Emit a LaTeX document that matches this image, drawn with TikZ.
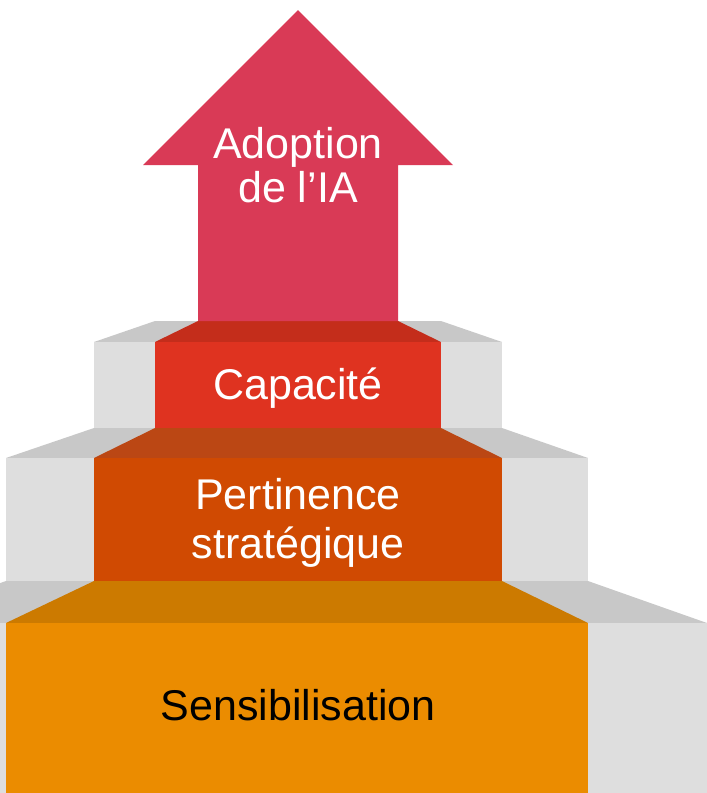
\documentclass[tikz,border=0pt]{standalone}
\usepackage{fontspec}
\setmainfont{Liberation Sans}
\definecolor{arrowred}{HTML}{D93A56}
\definecolor{capfront}{HTML}{DF3320}
\definecolor{captop}{HTML}{C42D1B}
\definecolor{perfront}{HTML}{D04A02}
\definecolor{pertop}{HTML}{BB4714}
\definecolor{senfront}{HTML}{EB8C00}
\definecolor{sentop}{HTML}{CC7A00}
\definecolor{stepfront}{HTML}{DEDEDE}
\definecolor{steptop}{HTML}{C8C8C8}
\tikzset{
  label text/.style={font=\fontsize{43}{48}\selectfont, anchor=base, inner sep=0pt},
  light label/.style={label text, text=white},
  dark label/.style={label text, text=black}
}
\begin{document}
\begin{tikzpicture}[x=1pt, y=-1pt]
\useasboundingbox (0,0) rectangle (707,793);
\begin{scope}
\clip (0,0) rectangle (707,793);
% lowest step: grey block, then the orange carpet on it
\fill[steptop] (6,581) -- (588,581) -- (707,623) -- (-113,623) -- cycle;
\fill[stepfront] (-113,623) rectangle (707,793);
\fill[sentop] (94,581) -- (502,581) -- (588,623) -- (6,623) -- cycle;
\fill[senfront] (6,623) rectangle (588,793);
% middle step
\fill[steptop] (94,428) -- (502,428) -- (588,458) -- (6,458) -- cycle;
\fill[stepfront] (6,458) rectangle (588,581);
\fill[pertop] (155,428) -- (441,428) -- (502,458) -- (94,458) -- cycle;
\fill[perfront] (94,458) rectangle (502,581);
% top step
\fill[steptop] (155,321) -- (441,321) -- (502,342) -- (94,342) -- cycle;
\fill[stepfront] (94,342) rectangle (502,428);
\fill[captop] (198,321) -- (398,321) -- (441,342) -- (155,342) -- cycle;
\fill[capfront] (155,342) rectangle (441,428);
% upward arrow
\fill[arrowred] (198,321) -- (198,165) -- (143,165) -- (298,10) -- (453,165)
  -- (398,165) -- (398,321) -- cycle;
\end{scope}
% labels
\node[light label] (adopt1) at (298,158) {Adoption};
\node[light label] (adopt2) at (298,202) {de l’IA};
\node[light label] (capa) at (298,399) {Capacité};
\node[light label] (pert1) at (298,509) {Pertinence};
\node[light label] (pert2) at (298,558) {stratégique};
\node[dark label] (sens) at (298,720) {Sensibilisation};
\end{tikzpicture}
\end{document}
